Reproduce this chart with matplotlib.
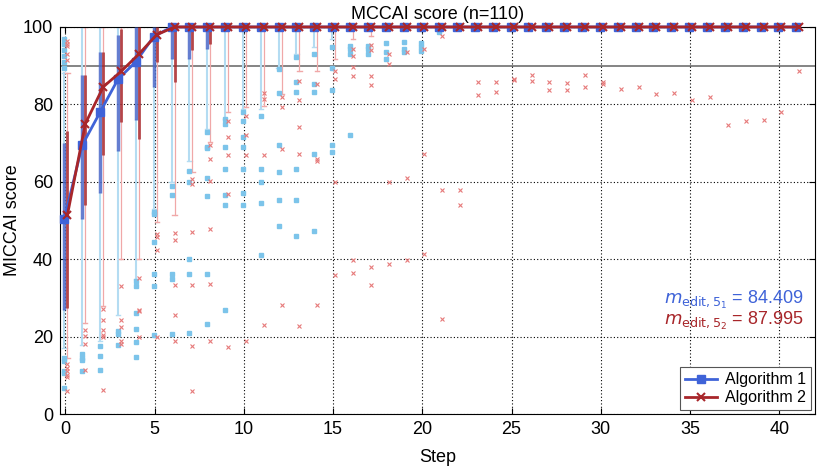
import matplotlib.pyplot as plt

plt.rcParams['font.family'] = ['Liberation Sans', 'DejaVu Sans']

steps = list(range(42))

# medians
blue_med = [50.5, 69.5, 78, 86.5, 91, 97.5] + [100] * 36
red_med = [51.5, 75, 84.5, 88.5, 93, 98] + [100] * 36

# boxes (q1, q3)
blue_q1 = [27, 50.5, 57, 68, 76, 84.5, 91.7, 91.7, 94.3, 99, 99, 99.5, 99.5] + [100] * 29
blue_q3 = [70, 87.5, 93.5, 98] + [100] * 38
red_q1 = [27.5, 54, 67, 75.5, 71, 91, 85.7, 94, 95.6] + [100] * 33
red_q3 = [73, 87.5, 93.5, 99.5] + [100] * 38

# whiskers
blue_wlo = [17, 17.8, 19, 25.5, 35, 53, 60, 65.5, 73.7, 76.3, 78.8, 78.8,
            89.4, 93, 94.7, 97] + [100] * 26
blue_whi = [88] + [100] * 41
red_wlo = [14.5, 23.4, 27.8, 40, 40, 49.7, 51.5, 62.5, 70.2, 78, 79.3, 79.5,
           82.7, 88.5, 88.7, 91.6, 96.9, 97.6] + [100] * 24
red_whi = [88] + [100] * 41

# outliers per step
blue_out = {
    0: [97, 95.5, 94, 92.5, 91, 89.5, 14.5, 13.8, 11, 10.5, 6.7],
    1: [15.5, 14.5, 14, 11.2],
    2: [17.5, 15, 11.3],
    3: [21.5, 20.8, 17.8],
    4: [34.3, 33, 26, 22, 18.5, 14.8],
    5: [52.2, 51.6, 44.5, 36.2, 33.2, 20.3],
    6: [59, 56.5, 36.2, 34.8, 20.8],
    7: [62.7, 60, 40.1, 36.1, 21],
    8: [72.8, 69, 68.7, 61, 56.3, 36.1, 23.2],
    9: [76.1, 75, 69, 63.2, 56.5, 54, 26.8],
    10: [78.1, 75.8, 71.5, 69, 63.2, 57, 54],
    11: [77.1, 63.2, 60, 54.6, 41.2],
    12: [89.2, 83, 69.4, 62.5, 55.2, 48.6],
    13: [92.2, 85.7, 83.3, 63.4, 55.2, 46],
    14: [93, 85.3, 83.3, 67.2, 47.4],
    15: [94.8, 89.4, 83.8, 69.4, 67.8],
    16: [95, 94.3, 93, 72],
    17: [95, 94.3, 93],
    18: [95.8, 93.5, 91.7],
    19: [96.2, 94.3, 93.6],
    20: [95.8, 94.8, 93.9],
    21: [98.6],
}
red_out = {
    0: [96.5, 95.5, 95, 93, 91.5, 13, 12, 11, 10, 9.5, 6],
    1: [21.8, 20.1, 18.2, 11.5],
    2: [27.2, 24.2, 21.8, 20.5, 20, 6.3],
    3: [33.2, 24.4, 22.6, 19, 18.2],
    4: [35.2, 27, 26.7, 20],
    5: [46.6, 45.8, 42.3, 20],
    6: [46.8, 44.9, 33.4, 25.5, 18.9],
    7: [60.8, 59.5, 47, 33.4, 17.5, 6],
    8: [69.5, 66, 60.3, 47.9, 33.7, 19],
    9: [75.8, 71.5, 66.8, 56.9, 17.2],
    10: [77, 72, 67, 19],
    11: [83, 81.5, 67, 23.1],
    12: [81.9, 79.3, 68.5, 28.1],
    13: [86.1, 81.2, 74.1, 67.2, 22.8],
    14: [85.3, 65.9, 65.5, 28.1],
    15: [88.7, 86.6, 59.9, 35.8],
    16: [94.3, 92.4, 89.6, 87.4, 39.7, 36.5],
    17: [95.4, 94.1, 87.3, 84.9, 38, 33.4],
    18: [93, 90.5, 59.9, 38.7],
    19: [93.6, 61, 39.7],
    20: [94.3, 67.2, 41.4],
    21: [97.6, 58, 24.6],
    22: [58, 53.9],
    23: [85.7, 82.3],
    24: [85.9, 83.2],
    25: [86.6, 86.3],
    26: [87.7, 86.1],
    27: [85.7, 83.8],
    28: [85.5, 83.8],
    29: [87.6, 84.6],
    30: [85.9, 85.2],
    31: [84.1],
    32: [84.4],
    33: [82.8],
    34: [82.9],
    35: [81.2],
    36: [82],
    37: [74.8],
    38: [75.8],
    39: [75.9],
    40: [78.1],
    41: [88.6],
}

m_edit_1 = 84.409
m_edit_2 = 87.995
threshold = 90

BLUE = '#3f63d8'
BLUE_BOX = '#4a68c8'
BLUE_LIGHT = '#b4dcf2'
BLUE_OUT = '#7cc4ea'
RED = '#a8262a'
RED_BOX = '#a8262a'
RED_LIGHT = '#f0a8a8'
RED_OUT = '#e67a7a'


def draw_group(ax, offset, q1, q3, wlo, whi, out, c_box, c_light, c_out,
               marker, whisk_lw, box_lw):
    cap = 0.12
    for i, s in enumerate(steps):
        x = s + offset
        if wlo[i] < q1[i]:
            ax.plot([x, x], [wlo[i], q1[i]], color=c_light, lw=whisk_lw, zorder=2)
            ax.plot([x - cap, x + cap], [wlo[i], wlo[i]], color=c_light, lw=1.0, zorder=2)
        if whi[i] > q3[i]:
            ax.plot([x, x], [q3[i], whi[i]], color=c_light, lw=whisk_lw, zorder=2)
            ax.plot([x - cap, x + cap], [whi[i], whi[i]], color=c_light, lw=1.0, zorder=2)
        if q3[i] > q1[i]:
            ax.plot([x, x], [q1[i], q3[i]], color=c_box, lw=box_lw, alpha=0.85,
                    solid_capstyle='butt', zorder=3)
        vals = out.get(s, [])
        if marker == 's':
            ax.plot([x] * len(vals), vals, 's', ms=3.2, color=c_out, mec=c_out, zorder=4)
        else:
            ax.plot([x] * len(vals), vals, 'x', ms=3.2, mew=0.8, color=c_out, zorder=4)


fig = plt.figure(figsize=(8.17, 4.70), dpi=100)
ax = fig.add_axes([0.0734, 0.119, 0.9241, 0.8236])

ax.axhline(threshold, color='#707070', lw=1.2, zorder=1.5)

draw_group(ax, -0.05, blue_q1, blue_q3, blue_wlo, blue_whi, blue_out,
           BLUE_BOX, BLUE_LIGHT, BLUE_OUT, 's', 1.5, 2.5)
draw_group(ax, 0.12, red_q1, red_q3, red_wlo, red_whi, red_out,
           RED_BOX, RED_LIGHT, RED_OUT, 'x', 0.9, 2.0)

ax.plot([s - 0.05 for s in steps], blue_med, '-s', color=BLUE, lw=2, ms=5.5,
        clip_on=False, zorder=5, label='Algorithm 1')
ax.plot([s + 0.12 for s in steps], red_med, '-x', color=RED, lw=2, ms=5.5, mew=1.5,
        clip_on=False, zorder=6, label='Algorithm 2')

ax.set_xlim(-0.3, 42)
ax.set_ylim(0, 100)
ax.set_xticks(range(0, 41, 5))
ax.set_yticks(range(0, 101, 20))
ax.grid(True, linestyle=(0, (1, 2)), color='black', lw=0.8)
ax.tick_params(direction='in', top=True, right=True, labelsize=13, length=4, pad=5)
ax.set_title('MCCAI score (n=110)', fontsize=13, pad=6)
ax.set_xlabel('Step', fontsize=13, labelpad=8)
ax.set_ylabel('MICCAI score', fontsize=13, labelpad=1)

ax.text(0.985, 0.295, r'$m_{\mathrm{edit},5_1}$ = %.3f' % m_edit_1, color=BLUE,
        transform=ax.transAxes, ha='right', va='center', fontsize=13,
        math_fontfamily='dejavusans')
ax.text(0.985, 0.24, r'$m_{\mathrm{edit},5_2}$ = %.3f' % m_edit_2, color=RED,
        transform=ax.transAxes, ha='right', va='center', fontsize=13,
        math_fontfamily='dejavusans')

leg = ax.legend(loc='lower right', fontsize=11.5, fancybox=False, framealpha=1,
                edgecolor='#555555', handlelength=2.0, handletextpad=0.5,
                borderpad=0.3, labelspacing=0.2, borderaxespad=0.25)
leg.get_frame().set_linewidth(0.8)

fig.savefig('out.png', dpi=100)
